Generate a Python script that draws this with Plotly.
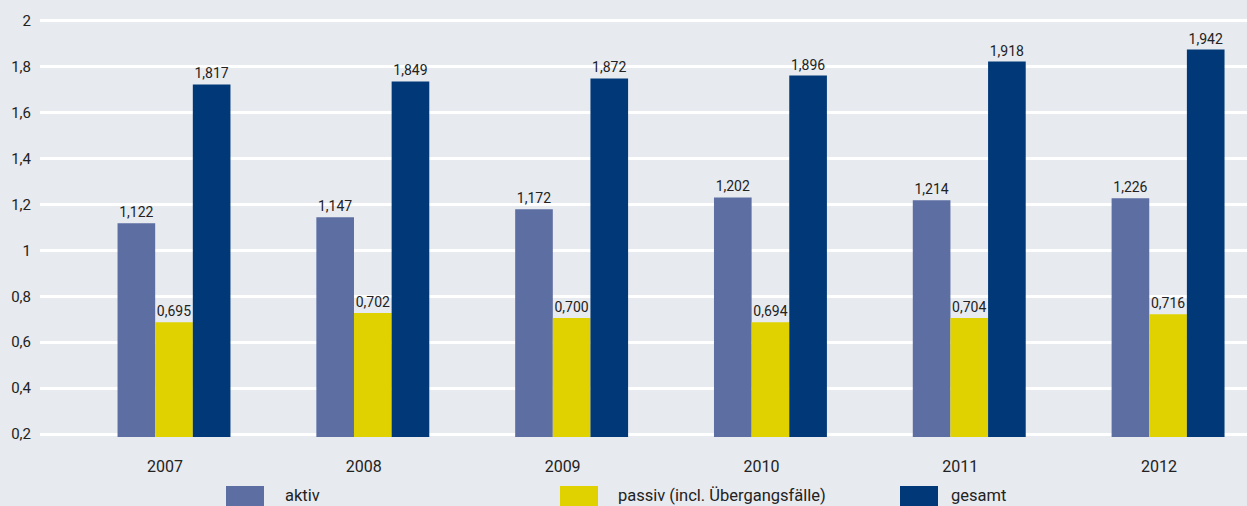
import plotly.graph_objects as go

years = ["2007", "2008", "2009", "2010", "2011", "2012"]

# bar heights as drawn in the picture
aktiv = [1.118, 1.144, 1.179, 1.231, 1.218, 1.227]
passiv = [0.687, 0.727, 0.705, 0.687, 0.705, 0.722]
gesamt = [1.723, 1.736, 1.749, 1.762, 1.823, 1.875]

# value labels printed above the bars
aktiv_labels = ["1,122", "1,147", "1,172", "1,202", "1,214", "1,226"]
passiv_labels = ["0,695", "0,702", "0,700", "0,694", "0,704", "0,716"]
gesamt_labels = ["1,817", "1,849", "1,872", "1,896", "1,918", "1,942"]

names = ["aktiv", "passiv (incl. Übergangsfälle)", "gesamt"]
colors = ["#5d6ea3", "#e0d100", "#003878"]

series = [(aktiv, aktiv_labels), (passiv, passiv_labels), (gesamt, gesamt_labels)]

FONT = "Roboto"
TXT = "#222222"
BG = "#e7eaef"

fig = go.Figure()
for (vals, labs), name, col in zip(series, names, colors):
    fig.add_trace(go.Bar(
        x=years, y=vals, name=name, marker=dict(color=col, line=dict(width=0)),
        customdata=labs, texttemplate="%{customdata}", textposition="outside",
        textfont=dict(family=FONT, size=14, color=TXT), constraintext="none",
        cliponaxis=False, showlegend=False,
    ))

W, H = 1247, 506
L, R, T, B = 40, 0, 0, 69
pw, ph = W - L - R, H - T - B

def px_x(p):
    return (p - L) / pw

def px_y(p):
    return (T + ph - p) / ph

legend_x = [226, 560, 900]
legend_text_x = [283, 616, 949]
shapes = []
annotations = []
for name, col, sx, tx in zip(names, colors, legend_x, legend_text_x):
    shapes.append(dict(type="rect", xref="paper", yref="paper",
                       x0=px_x(sx), x1=px_x(sx + 38), y0=px_y(512), y1=px_y(486),
                       fillcolor=col, line=dict(width=0), layer="above"))
    annotations.append(dict(xref="paper", yref="paper", x=px_x(tx), y=px_y(495),
                            xanchor="left", yanchor="middle", text=name, showarrow=False,
                            font=dict(family=FONT, size=16.5, color=TXT)))

fig.update_layout(
    width=W, height=H,
    margin=dict(l=L, r=R, t=T, b=B),
    paper_bgcolor=BG, plot_bgcolor=BG,
    barmode="group", bargap=0.432, bargroupgap=0,
    separators=",.",
    font=dict(family=FONT, color=TXT),
    shapes=shapes, annotations=annotations,
    showlegend=False,
)
fig.update_xaxes(
    range=[-0.674, 5.397], showgrid=False, zeroline=False, showline=False,
    ticks="", tickfont=dict(family=FONT, size=16, color=TXT),
    ticklabelstandoff=18, ticklabelshift=-9,
)
fig.update_yaxes(
    range=[0.187, 2.091], tickvals=[0.2, 0.4, 0.6, 0.8, 1, 1.2, 1.4, 1.6, 1.8, 2],
    ticktext=["0,2", "0,4", "0,6", "0,8", "1", "1,2", "1,4", "1,6", "1,8", "2"],
    showgrid=True, gridcolor="#ffffff", gridwidth=2.5, zeroline=False, showline=False,
    ticks="", tickfont=dict(family=FONT, size=15, color=TXT), ticklabelstandoff=8,
)

fig.write_html(
    "out.html",
    config={"displayModeBar": False},
    post_script="document.body.style.margin='0';document.body.style.overflow='hidden';document.body.style.background='#e7eaef';",
)
